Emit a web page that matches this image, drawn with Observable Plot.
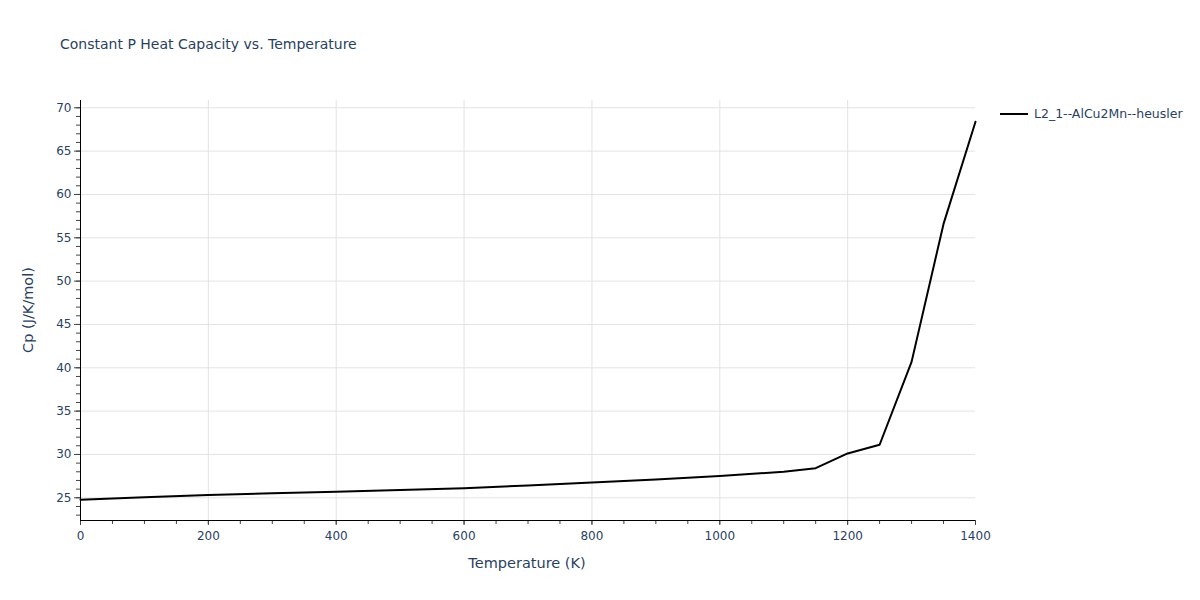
<!DOCTYPE html>
<html>
<head>
<meta charset="utf-8">
<script src="https://cdn.jsdelivr.net/npm/d3@7"></script>
<script src="https://cdn.jsdelivr.net/npm/@observablehq/plot@0.6"></script>
<style>
  html, body { margin: 0; padding: 0; background: #fff; }
  #wrap { position: relative; width: 1200px; height: 600px; font-family: "DejaVu Sans", Verdana, sans-serif; color: #2a3f5f; }
  #title { position: absolute; left: 60px; top: 36px; font-size: 14px; white-space: nowrap; }
  #legend { position: absolute; left: 1000px; top: 106px; font-size: 12.5px; white-space: nowrap; display: flex; align-items: center; }
  #legend .sw { width: 28px; height: 0; border-top: 2px solid #000; margin-right: 6px; }
  #ytitle { position: absolute; left: 28px; top: 310px; font-size: 14.5px; transform: translate(-50%, -50%) rotate(-90deg); white-space: nowrap; }
  #xtitle { position: absolute; left: 527px; top: 563px; font-size: 14.5px; transform: translate(-50%, -50%); white-space: nowrap; }
  #chart { position: absolute; left: 0; top: 0; }
</style>
</head>
<body>
<div id="wrap">
  <div id="chart"></div>
  <div id="title">Constant P Heat Capacity vs. Temperature</div>
  <div id="legend"><span class="sw"></span><span id="legname"></span></div>
  <div id="ytitle">Cp (J/K/mol)</div>
  <div id="xtitle">Temperature (K)</div>
</div>
<script>
const seriesName = "L2_1--AlCu2Mn--heusler";
const temperature = [0, 100, 200, 300, 400, 500, 600, 700, 800, 900, 1000, 1100, 1150, 1200, 1250, 1300, 1350, 1400];
const cp = [24.78, 25.05, 25.32, 25.52, 25.7, 25.9, 26.1, 26.42, 26.76, 27.12, 27.52, 28.0, 28.42, 30.12, 31.12, 40.68, 56.6, 68.38];
const xTicks = [0, 200, 400, 600, 800, 1000, 1200, 1400];
const yTicks = [25, 30, 35, 40, 45, 50, 55, 60, 65, 70];

document.getElementById("legname").textContent = seriesName;

const data = temperature.map((t, i) => ({t, cp: cp[i]}));
const xMinor = d3.range(0, 1401, 50);
const yMinor = d3.range(23, 71, 1);
const yDomain = [22.38, 70.84];
const gridColor = "#e3e3e3";
const tickColor = "#444";

const chart = Plot.plot({
  width: 1200,
  height: 600,
  marginLeft: 80,
  marginRight: 225,
  marginTop: 100,
  marginBottom: 80,
  style: {fontFamily: '"DejaVu Sans", Verdana, sans-serif', fontSize: "12px", color: "#2a3f5f", background: "transparent"},
  x: {domain: [0, 1400]},
  y: {domain: yDomain},
  marks: [
    Plot.ruleX(xTicks.filter(d => d > 0 && d < 1400), {stroke: gridColor, strokeWidth: 1}),
    Plot.ruleY(yTicks, {stroke: gridColor, strokeWidth: 1}),
    Plot.axisX(xMinor, {tickSize: 4, stroke: tickColor, text: null, label: null}),
    Plot.axisY(yMinor, {tickSize: 4, stroke: tickColor, text: null, label: null}),
    Plot.axisX(xTicks, {tickSize: 5, tickPadding: 6, stroke: tickColor, fill: "#2a3f5f", label: null, tickFormat: d => String(d)}),
    Plot.axisY(yTicks, {tickSize: 6, tickPadding: 3, stroke: tickColor, fill: "#2a3f5f", label: null, tickFormat: d => String(d)}),
    Plot.ruleX([0], {stroke: "#000", strokeWidth: 1}),
    Plot.ruleY([yDomain[0]], {stroke: "#000", strokeWidth: 1}),
    Plot.line(data, {x: "t", y: "cp", stroke: "#000", strokeWidth: 2})
  ]
});
document.getElementById("chart").appendChild(chart);
</script>
</body>
</html>
